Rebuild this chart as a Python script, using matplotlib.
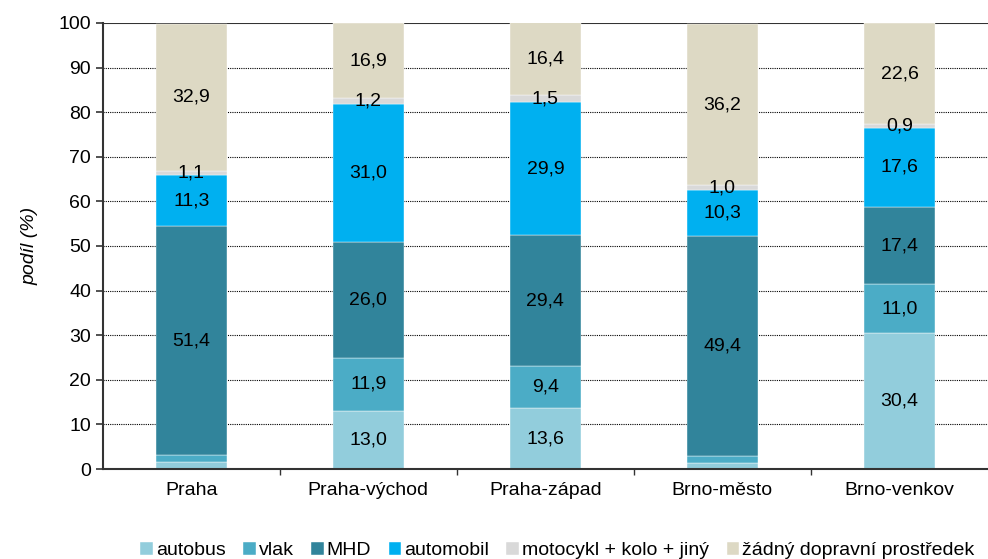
import numpy as np
import matplotlib
matplotlib.use("Agg")
import matplotlib.pyplot as plt

plt.rcParams['font.family'] = ['Liberation Sans', 'DejaVu Sans']

regions = ["Praha", "Praha-východ", "Praha-západ", "Brno-město", "Brno-venkov"]
series = ["autobus", "vlak", "MHD", "automobil", "motocykl + kolo + jiný", "žádný dopravní prostředek"]
autobus = [1.6, 13.0, 13.6, 1.4, 30.4]
vlak = [1.5, 11.9, 9.4, 1.5, 11.0]
mhd = [51.4, 26.0, 29.4, 49.4, 17.4]
automobil = [11.3, 31.0, 29.9, 10.3, 17.6]
moto = [1.1, 1.2, 1.5, 1.0, 0.9]
zadny = [32.9, 16.9, 16.4, 36.2, 22.6]
colors = ["#92CDDC", "#4BACC6", "#31849B", "#00B0F0", "#D9D9D9", "#DDD9C4"]

data = [autobus, vlak, mhd, automobil, moto, zadny]

fig = plt.figure(figsize=(9.88, 5.59), dpi=100)
ax = fig.add_axes([0.104, 0.161, 0.896, 0.798])

x = np.arange(len(regions))
bottom = np.zeros(len(regions))
for vals, name, c in zip(data, series, colors):
    vals = np.array(vals)
    ax.bar(x, vals, 0.4, bottom=bottom, color=c, edgecolor="white", linewidth=0.3,
           label=name, zorder=2)
    for xi, b, v in zip(x, bottom, vals):
        if v >= 0.8 and not (v < 2 and name in ("autobus", "vlak")):
            ax.text(xi, b + v / 2, f"{v:.1f}".replace(".", ","), ha="center",
                    va="center", fontsize=14, color="black", zorder=3)
    bottom += vals

ax.set_xlim(-0.5, 4.5)
ax.set_ylim(0, 100)
ax.set_yticks(range(0, 101, 10))
ax.set_xticks(x)
ax.set_xticklabels(regions)
ax.set_xticks(np.arange(0.5, 4.5, 1), minor=True)
ax.tick_params(axis="x", which="major", length=0, labelsize=14, pad=9)
ax.tick_params(axis="x", which="minor", direction="out", length=4, width=1, color="#333333")
ax.tick_params(axis="y", direction="out", length=5, width=1.2, labelsize=14, color="#333333")
for y in range(10, 100, 10):
    ax.axhline(y, color="black", linestyle=(0, (1, 1)), linewidth=0.8, zorder=1)
ax.axhline(100, color="#333333", linewidth=1.5, zorder=1)
for s in ["top", "right"]:
    ax.spines[s].set_visible(False)
ax.spines["left"].set_linewidth(1.5)
ax.spines["left"].set_color("#333333")
ax.spines["bottom"].set_linewidth(1.5)
ax.spines["bottom"].set_color("#333333")
ax.set_ylabel("podíl (%)", fontsize=14, style="italic", labelpad=14)

fig.legend(loc="lower center", bbox_to_anchor=(0.564, -0.032), ncol=6, frameon=False,
           fontsize=14, handlelength=0.65, handleheight=0.65, handletextpad=0.15,
           columnspacing=0.9)

fig.savefig("out.png", dpi=100)
